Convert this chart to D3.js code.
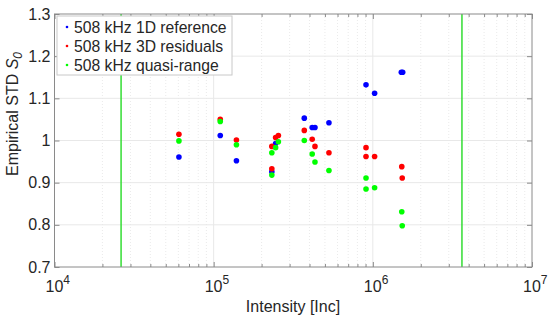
<!DOCTYPE html>
<html>
<head>
    <meta charset="UTF-8">
    <script src="https://d3js.org/d3.v7.min.js"></script>
    <style>
        body { margin: 0; background: #fff; font-family: "Liberation Sans", Arial, sans-serif; }
        svg { display: block; }
    </style>
</head>
<body>
    <svg id="chart"></svg>
    <script>
        // series: [intensity, std]
        const ref1D = [
            [60500, 0.961], [110000, 1.012], [139000, 0.952], [232000, 0.926],
            [245000, 0.993], [371000, 1.053], [416000, 1.031], [433000, 1.031],
            [530000, 1.042], [906000, 1.132], [1026000, 1.112], [1510000, 1.162], [1540000, 1.162]
        ];
        const residuals3D = [
            [60500, 1.015], [110000, 1.05], [139000, 1.001], [232000, 0.933], [232000, 0.986],
            [245000, 1.007], [255000, 1.012], [371000, 1.024], [416000, 1.003], [433000, 0.986],
            [530000, 0.971], [906000, 0.983], [906000, 0.962], [1026000, 0.962],
            [1520000, 0.938], [1530000, 0.911]
        ];
        const quasiRange = [
            [60500, 0.999], [110000, 1.045], [139000, 0.99], [232000, 0.918], [232000, 0.971],
            [245000, 0.983], [255000, 0.997], [371000, 1.0], [416000, 0.968], [433000, 0.949],
            [530000, 0.929], [906000, 0.911], [906000, 0.885], [1026000, 0.888],
            [1520000, 0.831], [1530000, 0.798]
        ];
        const limitLines = [26200, 3630000];
        const seriesNames = ["508 kHz 1D reference", "508 kHz 3D residuals", "508 kHz quasi-range"];
        const seriesColors = ["#0000ff", "#ff0000", "#00ff00"];
        const xDecades = [1e4, 1e5, 1e6, 1e7];
        const yTicks = [0.7, 0.8, 0.9, 1.0, 1.1, 1.2, 1.3];

        const W = 550, H = 321;
        const mLeft = 54.5, mRight = 532, mTop = 14, mBottom = 267;

        const svg = d3.select("#chart").attr("width", W).attr("height", H);

        const x = d3.scaleLog().domain([1e4, 1e7]).range([mLeft, mRight]);
        const y = d3.scaleLinear().domain([0.7, 1.3]).range([mBottom, mTop]);

        // minor x positions
        const minorX = [];
        for (let d = 1e4; d < 1e7; d *= 10) {
            for (let k = 2; k <= 9; k++) minorX.push(d * k);
        }

        // grid
        svg.append("g").selectAll("line").data(minorX).enter().append("line")
            .attr("x1", d => x(d)).attr("x2", d => x(d))
            .attr("y1", mTop).attr("y2", mBottom)
            .attr("stroke", "#e4e4e4").attr("stroke-width", 0.8)
            .attr("stroke-dasharray", "1,2");
        svg.append("g").selectAll("line").data(xDecades.slice(1, -1)).enter().append("line")
            .attr("x1", d => x(d)).attr("x2", d => x(d))
            .attr("y1", mTop).attr("y2", mBottom)
            .attr("stroke", "#e8e8e8").attr("stroke-width", 1);
        svg.append("g").selectAll("line").data(yTicks.slice(1, -1)).enter().append("line")
            .attr("x1", mLeft).attr("x2", mRight)
            .attr("y1", d => y(d)).attr("y2", d => y(d))
            .attr("stroke", "#e8e8e8").attr("stroke-width", 1);

        // limit lines
        svg.append("g").selectAll("line").data(limitLines).enter().append("line")
            .attr("x1", d => x(d)).attr("x2", d => x(d))
            .attr("y1", mTop).attr("y2", mBottom)
            .attr("stroke", "#33dd33").attr("stroke-width", 1.5);

        // points
        [ref1D, residuals3D, quasiRange].forEach((s, i) => {
            svg.append("g").selectAll("circle").data(s).enter().append("circle")
                .attr("cx", d => x(d[0])).attr("cy", d => y(d[1]))
                .attr("r", 2.8).attr("fill", seriesColors[i]);
        });

        // axes frame with inward ticks
        const axisColor = "#8a8a8a";
        svg.append("rect").attr("x", mLeft).attr("y", mTop)
            .attr("width", mRight - mLeft).attr("height", mBottom - mTop)
            .attr("fill", "none").attr("stroke", axisColor).attr("stroke-width", 1);

        const xb = svg.append("g").attr("transform", `translate(0,${mBottom})`)
            .call(d3.axisBottom(x).tickValues(xDecades).tickSizeInner(-5).tickSizeOuter(0).tickFormat(""));
        const xbm = svg.append("g").attr("transform", `translate(0,${mBottom})`)
            .call(d3.axisBottom(x).tickValues(minorX).tickSizeInner(-3).tickSizeOuter(0).tickFormat(""));
        const xt = svg.append("g").attr("transform", `translate(0,${mTop})`)
            .call(d3.axisTop(x).tickValues(xDecades).tickSizeInner(-5).tickSizeOuter(0).tickFormat(""));
        const xtm = svg.append("g").attr("transform", `translate(0,${mTop})`)
            .call(d3.axisTop(x).tickValues(minorX).tickSizeInner(-3).tickSizeOuter(0).tickFormat(""));
        const yl = svg.append("g").attr("transform", `translate(${mLeft},0)`)
            .call(d3.axisLeft(y).tickValues(yTicks).tickSizeInner(-5).tickSizeOuter(0)
                .tickFormat(d => d === 1 ? "1" : d3.format(".1f")(d)));
        const yr = svg.append("g").attr("transform", `translate(${mRight},0)`)
            .call(d3.axisRight(y).tickValues(yTicks).tickSizeInner(-5).tickSizeOuter(0).tickFormat(""));
        [xb, xbm, xt, xtm, yl, yr].forEach(g => {
            g.select(".domain").remove();
            g.selectAll("line").attr("stroke", axisColor);
        });
        yl.selectAll("text")
            .attr("x", -4)
            .attr("font-family", "Liberation Sans, Arial, sans-serif")
            .attr("font-size", 16).attr("fill", "#262626");

        // x decade labels 10^n, "10" centred on the tick
        const xl = svg.append("g").selectAll("text").data(xDecades).enter().append("text")
            .attr("x", d => x(d) - 9).attr("y", 292)
            .attr("text-anchor", "start")
            .attr("font-size", 16).attr("fill", "#262626");
        xl.append("tspan").text("10");
        xl.append("tspan").attr("dy", -8).attr("font-size", 12)
            .text(d => Math.round(Math.log10(d)));

        // axis titles
        svg.append("text").attr("x", 293).attr("y", 312)
            .attr("text-anchor", "middle").attr("font-size", 16).attr("fill", "#262626")
            .text("Intensity [Inc]");
        const yt = svg.append("text")
            .attr("transform", "translate(18,114) rotate(-90)")
            .attr("text-anchor", "middle").attr("font-size", 16).attr("fill", "#262626");
        yt.append("tspan").text("Empirical STD ");
        yt.append("tspan").attr("font-style", "italic").text("S");
        yt.append("tspan").attr("font-style", "italic").attr("font-size", 12).attr("dy", 4).text("0");

        // legend
        const lg = svg.append("g");
        lg.append("rect").attr("x", 57).attr("y", 16).attr("width", 175).attr("height", 59)
            .attr("fill", "#fff").attr("stroke", "#c8c8c8").attr("stroke-width", 1);
        seriesNames.forEach((name, i) => {
            const cy = 27 + i * 19;
            lg.append("circle").attr("cx", 67).attr("cy", cy).attr("r", 1.3).attr("fill", seriesColors[i]);
            lg.append("text").attr("x", 74).attr("y", cy + 5.5)
                .attr("font-size", 15.7).attr("fill", "#262626").text(name);
        });
    </script>
</body>
</html>
